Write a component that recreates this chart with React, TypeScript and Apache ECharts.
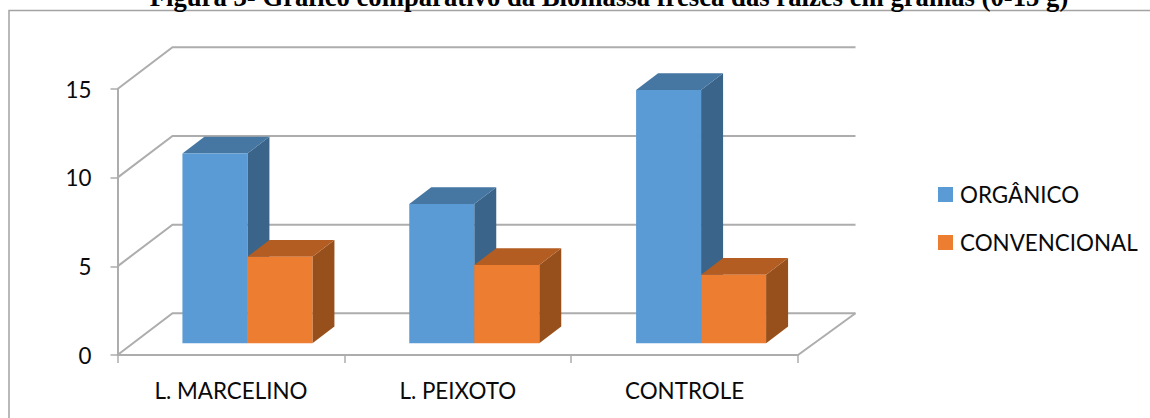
import React, { useEffect, useRef } from "react";
import * as echarts from "echarts";

const categories = ["L. MARCELINO", "L. PEIXOTO", "CONTROLE"];
const organico = [10.7, 7.86, 14.29];
const convencional = [4.88, 4.42, 3.87];
const yTicks = [0, 5, 10, 15];
const titleText = "Figura 3- Gráfico comparativo da Biomassa fresca das raízes em gramas (0-15 g)";

const FONT = "Lato, Carlito, 'Open Sans', sans-serif";
const WALL_DX = 55;
const WALL_DY = 41.7;
const WALL_RIGHT_EXTRA = 2.5;
const BAR_INSET_DX = 16.5;
const BAR_INSET_DY = 11.7;
const BAR_WIDTH = 65;
const BAR_DX = 22;
const BAR_DY = 16.7;
const LINE = "#adadad";

// Extruded box for one value; side 0 sits left of the band centre, side 1 right of it.
function boxRenderer(side: number, front: string, top: string, right: string) {
  return (_params: any, api: any) => {
    const [cx, yTop] = api.coord([api.value(0), api.value(1)]);
    const [, yBase] = api.coord([api.value(0), 0]);
    const x0 = cx + BAR_INSET_DX - (side === 0 ? BAR_WIDTH : 0);
    const x1 = x0 + BAR_WIDTH;
    const y0 = yTop - BAR_INSET_DY;
    const y1 = yBase - BAR_INSET_DY;
    return {
      type: "group",
      children: [
        {
          type: "polygon",
          shape: { points: [[x1, y0], [x1 + BAR_DX, y0 - BAR_DY], [x1 + BAR_DX, y1 - BAR_DY], [x1, y1]] },
          style: { fill: right },
        },
        {
          type: "polygon",
          shape: { points: [[x0, y0], [x0 + BAR_DX, y0 - BAR_DY], [x1 + BAR_DX, y0 - BAR_DY], [x1, y0]] },
          style: { fill: top },
        },
        { type: "rect", shape: { x: x0, y: y0, width: BAR_WIDTH, height: y1 - y0 }, style: { fill: front } },
      ],
    };
  };
}

// Gridline folded over the side wall and the back wall; the zero line also closes the floor.
function wallRenderer(params: any, api: any) {
  const { x, width } = params.coordSys;
  const value = api.value(1);
  const [, y] = api.coord([0, value]);
  const xEnd = x + width + WALL_DX + WALL_RIGHT_EXTRA;
  const style = { stroke: LINE, lineWidth: 2, fill: "none" };
  const children: any[] = [
    {
      type: "polyline",
      shape: { points: [[x, y], [x + WALL_DX, y - WALL_DY], [xEnd, y - WALL_DY]] },
      style,
    },
  ];
  if (value === 0) {
    children.push({
      type: "line",
      shape: { x1: x + width, y1: y, x2: xEnd, y2: y - WALL_DY },
      style,
    });
  }
  return { type: "group", children };
}

export default function App() {
  const ref = useRef<HTMLDivElement>(null);

  useEffect(() => {
    const chart = echarts.init(ref.current!, undefined, { renderer: "svg" });
    const axisLine = { show: true, lineStyle: { color: LINE, width: 2 } };
    chart.setOption({
      animation: false,
      backgroundColor: "#ffffff",
      textStyle: { fontFamily: FONT },
      graphic: [
        {
          type: "polyline",
          shape: { points: [[9, 420], [9, 10.5], [1152, 10.5]] },
          style: { stroke: "#a3a3a3", lineWidth: 1.5, fill: "none" },
        },
        {
          type: "text",
          x: 609,
          y: 10,
          style: {
            text: titleText,
            fill: "#000000",
            font: "bold 26.7px 'Liberation Serif', serif",
            textAlign: "center",
            textVerticalAlign: "bottom",
          },
        },
      ],
      legend: {
        orient: "vertical",
        left: 938,
        top: 183.5,
        padding: 0,
        itemWidth: 15,
        itemHeight: 15,
        itemGap: 26,
        icon: "rect",
        data: ["ORGÂNICO", "CONVENCIONAL"],
        textStyle: { fontFamily: FONT, fontSize: 22.4, color: "#0a0a0a", padding: [0, 0, 0, 2] },
      },
      grid: { left: 117.5, top: 89, width: 680.5, height: 266 },
      xAxis: {
        type: "category",
        data: categories,
        axisLine,
        axisTick: { show: true, length: 8, lineStyle: { color: LINE, width: 1.5 } },
        axisLabel: { fontFamily: FONT, fontSize: 22.4, color: "#0a0a0a", margin: 24 },
      },
      yAxis: {
        type: "value",
        min: 0,
        max: 15,
        interval: 5,
        axisLine,
        axisTick: { show: true, length: 7, lineStyle: { color: LINE, width: 1.5 } },
        axisLabel: { fontFamily: FONT, fontSize: 22.4, color: "#0a0a0a", margin: 26, padding: [3, 0, 0, 0] },
        splitLine: { show: false },
      },
      series: [
        {
          type: "custom",
          name: "walls",
          silent: true,
          renderItem: wallRenderer,
          data: yTicks.map((v) => [0, v]),
          encode: { x: 0, y: 1 },
          z: 1,
        },
        {
          type: "custom",
          name: "ORGÂNICO",
          itemStyle: { color: "#5b9bd5" },
          renderItem: boxRenderer(0, "#5b9bd5", "#4676a2", "#3a6489"),
          data: organico.map((v, i) => [i, v]),
          encode: { x: 0, y: 1 },
          z: 2,
        },
        {
          type: "custom",
          name: "CONVENCIONAL",
          itemStyle: { color: "#ed7d31" },
          renderItem: boxRenderer(1, "#ed7d31", "#b35d22", "#97501b"),
          data: convencional.map((v, i) => [i, v]),
          encode: { x: 0, y: 1 },
          z: 3,
        },
      ],
    });
    return () => chart.dispose();
  }, []);

  return <div ref={ref} style={{ position: "absolute", left: 0, top: 0, width: 1150, height: 418 }} />;
}
